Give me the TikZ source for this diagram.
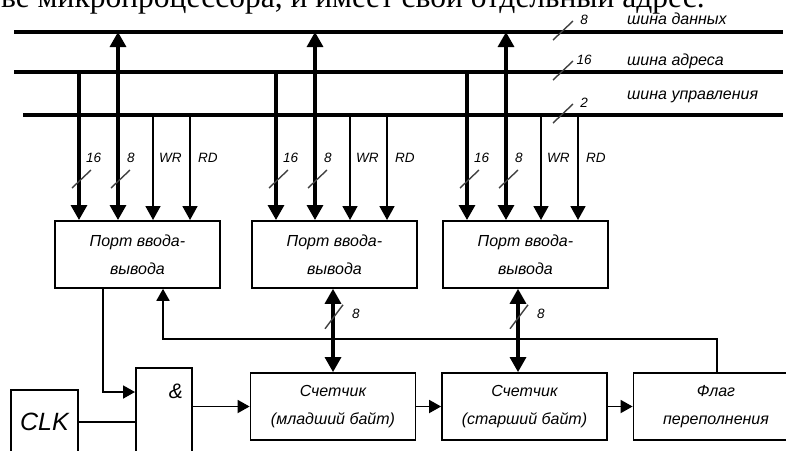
\documentclass[tikz,border=0pt]{standalone}
\usepackage{fontspec}
\setmainfont{Liberation Serif}
\newfontfamily\gost{Liberation Sans}
\usetikzlibrary{arrows.meta,calc}

\begin{document}
\begin{tikzpicture}[x=1pt,y=-1pt,
    bus/.style={line width=3.2pt},
    wide/.style={line width=3.2pt,-{Triangle[length=15pt,width=16pt]}},
    wide2/.style={line width=3.2pt,{Triangle[length=15pt,width=16pt]}-{Triangle[length=15pt,width=16pt]}},
    thn/.style={line width=1.8pt,-{Triangle[length=14pt,width=15pt]}},
    sm/.style={line width=1.8pt,-{Triangle[length=12pt,width=13pt]}},
    ln/.style={line width=1.8pt},
    tick/.style={line width=1.4pt,black!75},
    blk/.style={draw,line width=1.8pt,minimum width=165pt,minimum height=67pt,align=center,
        inner sep=0pt,font=\gost\itshape\fontsize{16}{28}\selectfont},
    lab/.style={font=\gost\itshape\fontsize{13.5}{15}\selectfont,inner sep=1pt},
    blab/.style={font=\gost\itshape\fontsize{16}{18}\selectfont,inner sep=0pt,anchor=west}]

\useasboundingbox (0,0) rectangle (786,450);
\clip (0,0) rectangle (786,450);

% cut line of text above the figure
\node[anchor=base west,inner sep=0pt,font=\fontsize{31.5}{34}\selectfont] (head) at (1,7)
    {ве микропроцессора, и имеет свой отдельный адрес.};

% buses
\coordinate (dbus) at (14,32);
\coordinate (abus) at (14,72);
\coordinate (cbus) at (23,115);
\coordinate (bend) at (783,0);
\coordinate (tk) at (563,0);

\foreach \b in {dbus,abus,cbus}
    \draw[bus] (\b) -- (\b -| bend);

\foreach \b/\n/\txt/\dy in {dbus/8/шина данных/-13, abus/16/шина адреса/-11, cbus/2/шина управления/-18} {
    \draw[tick] (\b -| tk) ++(-10,8) -- ++(20,-19);
    \node[lab] (n\n) at ($(\b -| tk)+(21,-12)$) {\n};
    \node[blab] (t\n) at ($(\b -| tk)+(64,\dy)$) {\txt};
}

% ports
\foreach \i/\px in {1/54,2/251,3/442} {
    \node[blk,anchor=north west] (port\i) at (\px,220) {Порт ввода-\\вывода};
    \coordinate (s16\i) at ($(port\i.north west)+(25,0)$);
    \coordinate (s8\i)  at ($(port\i.north west)+(64,0)$);
    \coordinate (swr\i) at ($(port\i.north west)+(99,0)$);
    \coordinate (srd\i) at ($(port\i.north west)+(136,0)$);
    \draw[wide]  (s16\i |- abus) -- (s16\i);
    \draw[wide2] (s8\i |- dbus) -- (s8\i);
    \draw[thn]   (swr\i |- cbus) -- (swr\i);
    \draw[thn]   (srd\i |- cbus) -- (srd\i);
    \draw[tick] (s16\i) ++(-7,-32) -- ++(19,-18);
    \draw[tick] (s8\i) ++(-7,-32) -- ++(19,-18);
    \node[lab,anchor=west] (l16\i) at ($(s16\i)+(6,-62)$) {16};
    \node[lab,anchor=west] (l8\i)  at ($(s8\i)+(8,-62)$) {8};
    \node[lab,anchor=west] (lwr\i) at ($(swr\i)+(5,-62)$) {WR};
    \node[lab,anchor=west] (lrd\i) at ($(srd\i)+(7,-62)$) {RD};
}

% lower row
\node[blk,anchor=north west,minimum width=67pt,minimum height=64pt,
      font=\gost\itshape\fontsize{25}{28}\selectfont] (clk) at (10,389) {CLK};
\node[draw,line width=1.8pt,anchor=north west,minimum width=56pt,minimum height=100pt] (gate) at (135,367) {};
\node[font=\gost\itshape\fontsize{21}{24}\selectfont,inner sep=0pt] (amp) at ($(gate.north east)+(-17,24)$) {\&};

\node[blk] (cnt1) at (333,406.5) {Счетчик\\(младший байт)};
\node[blk] (cnt2) at (524.5,406.5) {Счетчик\\(старший байт)};
\node[blk] (flag) at (716,406.5) {Флаг\\переполнения};

\draw[ln] (clk) -- (clk -| gate.west);
\draw[sm] (gate.east |- cnt1) -- (cnt1);
\draw[sm] (cnt1) -- (cnt2);
\draw[sm] (cnt2) -- (flag);

\coordinate (o1) at ($(port1.south west)+(49,0)$);
\coordinate (g1) at ($(gate.north west)+(0,25)$);
\draw[sm] (o1) -- (o1 |- g1) -- (g1);

\coordinate (f1) at ($(flag.north west)+(84,0)$);
\coordinate (fb) at ($(port1.south west)+(109,0)$);
\draw[sm] (f1) -- ++(0,-33) -| (fb);

\foreach \i/\dx/\c in {2/82/cnt1,3/76/cnt2} {
    \coordinate (d\i) at ($(port\i.south west)+(\dx,0)$);
    \draw[wide2] (d\i) -- (d\i |- \c.north);
    \draw[tick] (d\i) ++(-8,40) -- ++(18,-24);
    \node[lab,anchor=west] (ld\i) at ($(d\i)+(18,25)$) {8};
}

\end{tikzpicture}
\end{document}
